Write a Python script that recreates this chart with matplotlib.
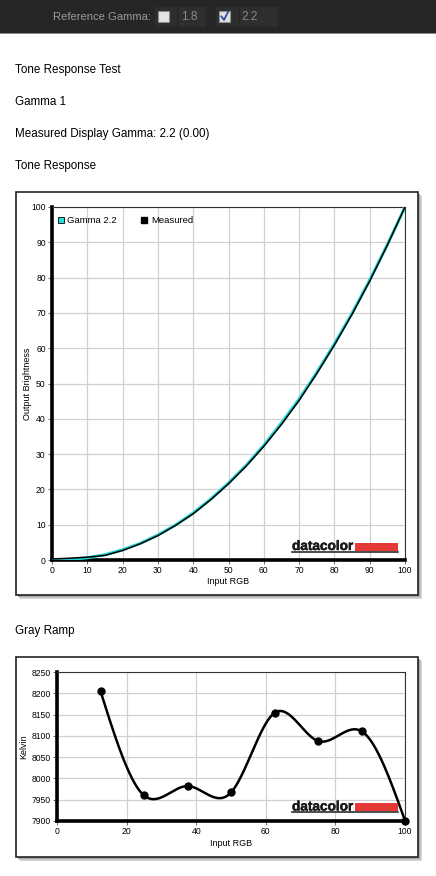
import numpy as np
import matplotlib
matplotlib.use("Agg")
import matplotlib.pyplot as plt
import matplotlib.patheffects as pe
from matplotlib.patches import Rectangle
from matplotlib.lines import Line2D

plt.rcParams['font.family'] = ['Liberation Sans', 'DejaVu Sans']

W, H = 436, 876

# tone response data
tone_x = [0, 5, 10, 15, 20, 25, 30, 35, 40, 45, 50, 55, 60, 65, 70, 75, 80, 85, 90, 95, 100]
gamma22 = [0, 0.14, 0.63, 1.5, 2.9, 4.7, 7.1, 9.9, 13.3, 17.3, 21.8, 26.8, 32.5, 38.8, 45.6,
           53.1, 61.2, 69.9, 79.3, 89.3, 100]
measured = [0.3, 0.5, 0.8, 1.3, 2.7, 4.6, 6.9, 9.8, 13.1, 17.1, 21.6, 26.6, 32.2, 38.4, 45.2,
            52.8, 60.9, 69.6, 79.0, 89.2, 100]

# gray ramp data
ramp_x = [12.5, 25, 37.5, 50, 62.5, 75, 87.5, 100]
ramp_k = [8205, 7960, 7982, 7967, 8154, 8088, 8111, 7901]

header_lines = ["Tone Response Test", "Gamma 1", "Measured Display Gamma: 2.2 (0.00)", "Tone Response"]
header_y = [70, 102, 134, 166]


def px_axes(fig, x, y, w, h, **kw):
    return fig.add_axes([x / W, 1 - (y + h) / H, w / W, h / H], **kw)


def fx(x):
    return x / W


def fy(y):
    return 1 - y / H


def spline(xs, ys, n=300):
    # natural cubic spline, just to smooth the drawn line like the original
    xs = np.asarray(xs, float)
    ys = np.asarray(ys, float)
    k = len(xs)
    h = np.diff(xs)
    A = np.zeros((k, k))
    b = np.zeros(k)
    A[0, 0] = A[-1, -1] = 1
    for i in range(1, k - 1):
        A[i, i - 1] = h[i - 1]
        A[i, i] = 2 * (h[i - 1] + h[i])
        A[i, i + 1] = h[i]
        b[i] = 3 * ((ys[i + 1] - ys[i]) / h[i] - (ys[i] - ys[i - 1]) / h[i - 1])
    c = np.linalg.solve(A, b)
    xx = np.linspace(xs[0], xs[-1], n)
    yy = np.empty_like(xx)
    for j, t in enumerate(xx):
        i = min(np.searchsorted(xs, t, side='right') - 1, k - 2)
        d = t - xs[i]
        bi = (ys[i + 1] - ys[i]) / h[i] - h[i] * (2 * c[i] + c[i + 1]) / 3
        di = (c[i + 1] - c[i]) / (3 * h[i])
        yy[j] = ys[i] + bi * d + c[i] * d ** 2 + di * d ** 3
    return xx, yy


def frame(fig, x0, y0, x1, y1):
    # drop shadow then white box with dark border
    for off, col in [(4, '#d8d8d8'), (3, '#c4c4c4'), (2, '#aaaaaa')]:
        fig.patches.append(Rectangle((fx(x0 + off), fy(y1 + off)), fx(x1 - x0), (y1 - y0) / H,
                                     transform=fig.transFigure, facecolor=col, edgecolor='none', zorder=0))
    fig.patches.append(Rectangle((fx(x0), fy(y1)), fx(x1 - x0), (y1 - y0) / H,
                                 transform=fig.transFigure, facecolor='white', edgecolor='#222222',
                                 linewidth=1.2, zorder=1))


def logo(fig, x0, x1, yline):
    # datacolor mark, figure pixel coords (underline at yline)
    fig.text(fx(x0), fy(yline - 1.5), "datacolor", fontsize=9.8, fontweight='bold',
             color='#1a1a1a', ha='left', va='baseline', zorder=8,
             path_effects=[pe.withStroke(linewidth=0.35, foreground='#1a1a1a')])
    fig.patches.append(Rectangle((fx(x0 + 63), fy(yline - 1)), fx(x1 - x0 - 63), 8 / H,
                                 transform=fig.transFigure, facecolor='#e53935', edgecolor='none', zorder=8))
    fig.lines.append(Line2D([fx(x0), fx(x1)], [fy(yline), fy(yline)], transform=fig.transFigure,
                            color='#1a1a1a', lw=1.1, zorder=8))


def style_axes(ax):
    ax.set_zorder(5)
    ax.set_facecolor('white')
    ax.grid(True, color='#d0d0d0', lw=0.9)
    ax.set_axisbelow(True)
    for s in ['top', 'right']:
        ax.spines[s].set_color('#333333')
        ax.spines[s].set_linewidth(0.8)
    for s in ['left', 'bottom']:
        ax.spines[s].set_color('black')
        ax.spines[s].set_linewidth(2.6)
    ax.tick_params(labelsize=6.2, length=3, width=0.6, color='#555555', pad=1.5)


fig = plt.figure(figsize=(W / 100, H / 100), dpi=100)
fig.patch.set_facecolor('white')

# top dark toolbar
fig.patches.append(Rectangle((0, fy(33)), 1, 33 / H, transform=fig.transFigure,
                             facecolor='#262626', edgecolor='none', zorder=0))
fig.patches.append(Rectangle((0, fy(34)), 1, 1.5 / H, transform=fig.transFigure,
                             facecolor='#8a8a8a', edgecolor='none', zorder=0))
for bx, bw in [(155, 22), (179, 27), (216, 23), (240, 38)]:
    fig.patches.append(Rectangle((fx(bx), fy(27)), fx(bw), 20 / H, transform=fig.transFigure,
                                 facecolor='#2e2e2e', edgecolor='none', zorder=1))
fig.text(fx(151), fy(17), "Reference Gamma:", fontsize=8.1, color='#9a9a9a', ha='right', va='center')
for cx in [158, 219]:
    fig.patches.append(Rectangle((fx(cx), fy(22)), fx(11), 11 / H, transform=fig.transFigure,
                                 facecolor='#e4e4e4', edgecolor='#8a8a8a', linewidth=0.8, zorder=2))
fig.text(fx(181), fy(17.5), "1.8", fontsize=8.6, color='#8a8a8a', ha='left', va='center')
fig.text(fx(241), fy(17.5), "2.2", fontsize=8.6, color='#8a8a8a', ha='left', va='center')
fig.lines.append(Line2D([fx(221.5), fx(224), fx(228)], [fy(16.5), fy(20), fy(12)],
                        transform=fig.transFigure, color='#3048a8', lw=1.3, zorder=3))

for txt, yy in zip(header_lines, header_y):
    fig.text(fx(15), fy(yy), txt, fontsize=8.4, color='black', ha='left', va='center')
fig.text(fx(15), fy(631), "Gray Ramp", fontsize=8.4, color='black', ha='left', va='center')

# tone response chart
frame(fig, 16, 192, 418, 595)
ax1 = px_axes(fig, 52, 207, 353, 353)
style_axes(ax1)
ax1.plot(tone_x, gamma22, color='#22d3d3', lw=2.2, zorder=3, solid_capstyle='round')
ax1.plot(tone_x, measured, color='black', lw=1.1, zorder=4)
ax1.set_xlim(0, 100)
ax1.set_ylim(0, 100)
ax1.set_xticks(range(0, 101, 10))
ax1.set_yticks(range(0, 101, 10))
ax1.set_xlabel("Input RGB", fontsize=6.5)
ax1.set_ylabel("Output Brightness", fontsize=6.5)
ax1.xaxis.set_label_coords(0.5, -0.049)
ax1.yaxis.set_label_coords(-0.058, 0.5)
handles = [Line2D([], [], marker='s', ls='none', markersize=5, markerfacecolor='#22e0e0',
                  markeredgecolor='black', markeredgewidth=0.6),
           Line2D([], [], marker='s', ls='none', markersize=5, markerfacecolor='black',
                  markeredgecolor='black')]
ax1.legend(handles, ["Gamma 2.2", "Measured"], loc='upper left', ncol=2, frameon=False,
           fontsize=6.8, handlelength=1.0, handletextpad=0.2, columnspacing=2.4, borderaxespad=0.0,
           bbox_to_anchor=(0.0, 0.985))
logo(fig, 292, 398, 551.5)

# gray ramp chart
frame(fig, 16, 657, 418, 857)
ax2 = px_axes(fig, 57, 672, 348, 149)
style_axes(ax2)
sx, sy = spline(ramp_x, ramp_k)
ax2.plot(sx, sy, color='black', lw=1.8, zorder=3)
ax2.plot(ramp_x, ramp_k, 'o', color='black', markersize=5, zorder=4, clip_on=False)
ax2.set_xlim(0, 100)
ax2.set_ylim(7900, 8250)
ax2.set_xticks(range(0, 101, 20))
ax2.set_yticks(range(7900, 8251, 50))
ax2.set_xlabel("Input RGB", fontsize=6.5)
ax2.set_ylabel("Kelvin", fontsize=6.5)
ax2.xaxis.set_label_coords(0.5, -0.121)
ax2.yaxis.set_label_coords(-0.083, 0.5)
logo(fig, 292, 398, 812)

fig.savefig("out.png", dpi=100, facecolor='white')
